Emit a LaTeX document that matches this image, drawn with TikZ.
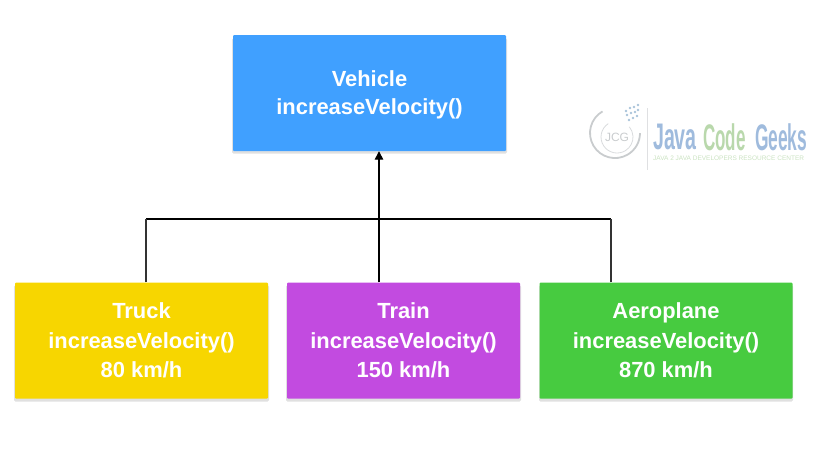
\documentclass[tikz,border=0pt]{standalone}
\usepackage{fontspec}
\setmainfont{Liberation Sans}
\usetikzlibrary{arrows.meta}
\definecolor{vblue}{HTML}{40A0FF}
\definecolor{tyellow}{HTML}{F7D600}
\definecolor{tpurple}{HTML}{C24BE0}
\definecolor{agreen}{HTML}{47CB40}
\definecolor{logoblue}{HTML}{9FBBDD}
\definecolor{logogreen}{HTML}{B9D8AC}
\definecolor{logogray}{HTML}{C9CCCE}
\definecolor{logodot}{HTML}{A9C3DA}
\tikzset{
  x=1pt,y=-1pt,
  box/.style={minimum height=116pt,inner sep=0pt,align=center,text=white,rounded corners=1pt,
    font=\fontsize{21.9}{29.5}\selectfont\bfseries},
  shadowbox/.style={fill=black,opacity=.12,rounded corners=1.5pt},
  conn/.style={draw=black,line width=2pt},
  stem/.style={draw=black!80,line width=1.3pt},
  logotext/.style={inner sep=0pt,font=\fontsize{37}{37}\selectfont\bfseries},
}
\begin{document}
\begin{tikzpicture}
\useasboundingbox (0,0) rectangle (820,467);
\fill[shadowbox] (232,38) rectangle (507,153.5);
\fill[shadowbox] (14,285) rectangle (269,401.5);
\fill[shadowbox] (286,285) rectangle (521,401.5);
\fill[shadowbox] (539,285) rectangle (793,401.5);
\node[box,fill=vblue,minimum width=273pt,label={[align=center,text=white,inner sep=0pt,yshift=-2pt,font=\fontsize{21.9}{28}\selectfont\bfseries]center:Vehicle\\increaseVelocity()}] (vehicle) at (369.5,93) {};
\node[box,fill=tyellow,minimum width=253pt] (truck) at (141.5,340.5) {Truck\\increaseVelocity()\\80 km/h};
\node[box,fill=tpurple,minimum width=233pt] (train) at (403.5,340.5) {Train\\increaseVelocity()\\150 km/h};
\node[box,fill=agreen,minimum width=253pt] (plane) at (666,340.5) {Aeroplane\\increaseVelocity()\\870 km/h};
\coordinate (jl) at (146,218.5);
\coordinate (jm) at (379,218.5);
\coordinate (jr) at (611,218.5);
\draw[conn] (jl) -- (jr);
\draw[stem] (truck.north -| jl) -- (jl);
\draw[stem] (plane.north -| jr) -- (jr);
\draw[conn,line width=1.3pt,-{Triangle[length=8.5pt,width=8.5pt]}] (train.north -| jm) -- (vehicle.south -| jm);
% logo
\draw[logogray,line width=1.8pt] (602.5,111.4) arc[start angle=-120,end angle=-360,radius=25];
\draw[logogray!70,line width=.8pt] (608.3,123.6) arc[start angle=-123,end angle=-400,radius=16];
\node[inner sep=0pt,text=logogray,font=\fontsize{12}{12}\selectfont] (jcg) at (617,137) {JCG};
\foreach \a/\b in {627/115,631/113,635/112,630/108,634/107,638/105,633/118,637/116,626/111,638/110,629/120}
  \fill[logodot] (\a,\b) circle[radius=1.4];
\draw[logogray!60,line width=.6pt] (647,108) -- (647,170);
\node[logotext,text=logoblue,anchor=west,xscale=.53] (jv) at (653,137) {Java};
\node[logotext,text=logogreen,anchor=west,xscale=.46] (cd) at (703,137) {Code};
\node[logotext,text=logoblue,anchor=west,xscale=.47] (gk) at (755,137) {Geeks};
\node[inner sep=0pt,text=logogreen!75,anchor=west,font=\fontsize{6.5}{6.5}\selectfont] (tag) at (653,158.5) {JAVA 2 JAVA DEVELOPERS RESOURCE CENTER};
\end{tikzpicture}
\end{document}
